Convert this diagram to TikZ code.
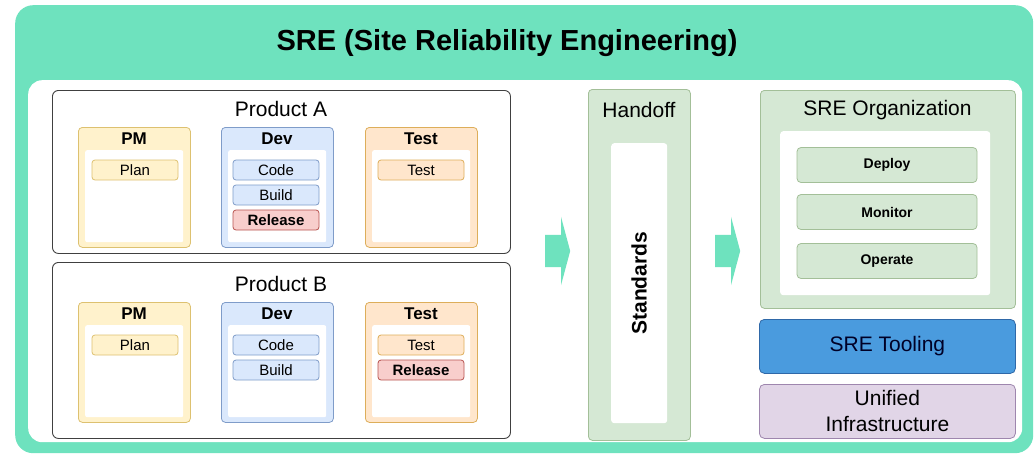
\documentclass[tikz,border=0pt]{standalone}
\usepackage{fontspec}
\setmainfont{Liberation Sans}
\usetikzlibrary{shapes.arrows}

\definecolor{sremint}{HTML}{6EE2BE}
\definecolor{pmfill}{HTML}{FFF2CC}
\definecolor{pmline}{HTML}{DDC170}
\definecolor{devfill}{HTML}{DAE8FC}
\definecolor{devline}{HTML}{7F9CC9}
\definecolor{tstfill}{HTML}{FFE6CC}
\definecolor{tstline}{HTML}{DDAE5A}
\definecolor{relfill}{HTML}{F8CECC}
\definecolor{relline}{HTML}{B85450}
\definecolor{grnfill}{HTML}{D5E8D4}
\definecolor{grnline}{HTML}{A3BF98}
\definecolor{toolfill}{HTML}{4A9BDE}
\definecolor{toolline}{HTML}{2F68A8}
\definecolor{infrafill}{HTML}{E1D5E7}
\definecolor{infraline}{HTML}{9E86AE}

\tikzset{
  corner/.style={anchor=north west, inner sep=0pt},
  prodbox/.style={corner, draw=black!75, line width=0.9pt, fill=white, rounded corners=6pt},
  rolebox/.style={corner, line width=0.8pt, rounded corners=4pt, minimum width=112pt, minimum height=120pt},
  roleinner/.style={corner, fill=white, draw=none, rounded corners=2pt, minimum width=98pt, minimum height=92pt},
  pm/.style={fill=pmfill, draw=pmline},
  dev/.style={fill=devfill, draw=devline},
  tst/.style={fill=tstfill, draw=tstline},
  rel/.style={fill=relfill, draw=relline, font=\bfseries\fontsize{15}{15}\selectfont},
  item/.style={line width=0.8pt, rounded corners=3pt, inner sep=0pt, minimum width=86pt, minimum height=20pt, font=\fontsize{15}{15}\selectfont},
  hdr/.style={inner sep=0pt, font=\bfseries\fontsize{17}{17}\selectfont},
  lbl/.style={inner sep=0pt, font=\fontsize{21}{21}\selectfont},
  grnbox/.style={corner, fill=grnfill, draw=grnline, line width=0.8pt, rounded corners=4pt},
  whitebox/.style={corner, fill=white, draw=none, rounded corners=3pt},
  orgitem/.style={fill=grnfill, draw=grnline, line width=0.8pt, rounded corners=4pt, inner sep=0pt, minimum width=180pt, minimum height=35pt, font=\bfseries\fontsize{14}{14}\selectfont},
  flow/.style={single arrow, fill=sremint, draw=none, inner xsep=0pt, inner ysep=16pt, minimum height=25pt, single arrow head extend=18pt, single arrow tip angle=150}
}

\begin{document}
\begin{tikzpicture}[x=1pt, y=-1pt]
  \useasboundingbox (0,0) rectangle (1035,455);

  % frame
  \node[corner, fill=sremint, rounded corners=18pt, minimum width=1018pt, minimum height=448pt] (sre) at (15,5) {};
  \node[whitebox, rounded corners=14pt, minimum width=994pt, minimum height=362pt] (sreinner) at (28,80) {};
  \node[inner sep=0pt, font=\bfseries\fontsize{29}{29}\selectfont] (title) at (507,43) {SRE (Site Reliability Engineering)};

  % products
  \foreach \p/\y/\h/\ry/\name in {A/90/163/127/Product A, B/262/176/302/Product B} {
    \node[prodbox, minimum width=458pt, minimum height=\h pt] (p\p) at (52,\y) {};
    \node[lbl] (p\p lbl) at (281,\ry-18) {\name};
    \foreach \r/\x/\t in {pm/78/PM, dev/221/Dev, tst/365/Test} {
      \node[rolebox, \r] (p\p\r) at (\x,\ry) {};
      \node[roleinner] (p\p\r in) at (\x+7,\ry+23) {};
      \node[hdr] (p\p\r hdr) at (\x+56,\ry+12) {\t};
    }
  }

  % product A items
  \node[item, pm]  (pAplan)  at (135,170) {Plan};
  \node[item, dev] (pAcode)  at (276,170) {Code};
  \node[item, dev] (pAbuild) at (276,195) {Build};
  \node[item, rel] (pArel)   at (276,220) {Release};
  \node[item, tst] (pAtest)  at (421,170) {Test};

  % product B items
  \node[item, pm]  (pBplan)  at (135,345) {Plan};
  \node[item, dev] (pBcode)  at (276,345) {Code};
  \node[item, dev] (pBbuild) at (276,370) {Build};
  \node[item, tst] (pBtest)  at (421,345) {Test};
  \node[item, rel] (pBrel)   at (421,370) {Release};

  % handoff
  \node[flow] (flowA) at (555.5,251) {};
  \node[grnbox, minimum width=102pt, minimum height=351pt] (handoff) at (588,89) {};
  \node[lbl] (handofflbl) at (639,110) {Handoff};
  \node[whitebox, minimum width=56pt, minimum height=280pt] (stdbox) at (611,143) {};
  \node[lbl, font=\bfseries\fontsize{21}{21}\selectfont, rotate=90] (std) at (stdbox.center) {Standards};
  \node[flow] (flowB) at (725.5,251) {};

  % SRE side
  \node[grnbox, minimum width=255pt, minimum height=218pt] (org) at (760,90) {};
  \node[lbl] (orglbl) at (887.5,110) {SRE Organization};
  \node[whitebox, minimum width=210pt, minimum height=164pt] (orgin) at (780,131) {};
  \foreach \n/\t/\yy in {deploy/Deploy/165, monitor/Monitor/212, operate/Operate/261}
    \node[orgitem] (\n) at (887,\yy) {\t};
  \node[corner, fill=toolfill, draw=toolline, line width=0.8pt, rounded corners=5pt, minimum width=256pt, minimum height=54pt, font=\fontsize{21}{21}\selectfont, text=black!85!blue] (tooling) at (759,319) {SRE Tooling};
  \node[corner, fill=infrafill, draw=infraline, line width=0.8pt, rounded corners=5pt, minimum width=256pt, minimum height=54pt, align=center, font=\fontsize{21}{26}\selectfont] (infra) at (759,384) {Unified\\Infrastructure};
\end{tikzpicture}
\end{document}
